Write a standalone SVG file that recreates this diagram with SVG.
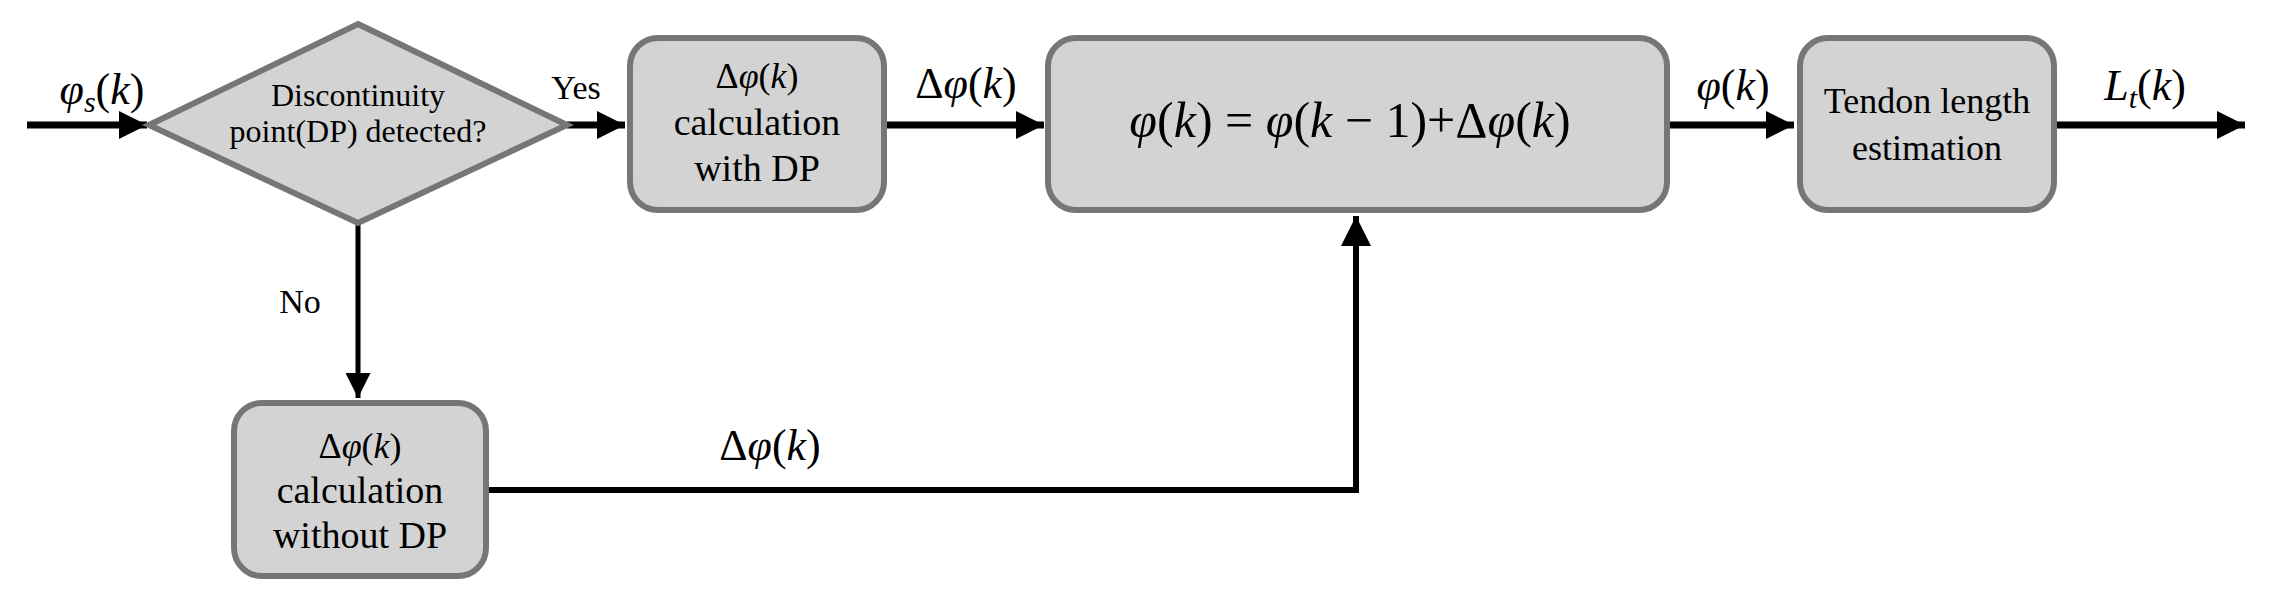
<svg xmlns="http://www.w3.org/2000/svg" width="2276" height="603" viewBox="0 0 2276 603">
<style>
.n{fill:#d3d3d3;stroke:#767676;stroke-width:6}
text{font-family:"Liberation Serif","Times New Roman","DejaVu Serif",serif;fill:#000;text-anchor:middle}
.m{font-style:italic}
.c{stroke:#000;fill:none}
</style>
<defs>
<marker id="a" viewBox="0 0 10 10" refX="10" refY="5" markerWidth="4" markerHeight="4" orient="auto" markerUnits="strokeWidth"><path d="M0,0L10,5L0,10z" fill="#000"/></marker>
<marker id="b" viewBox="0 0 10 10" refX="10" refY="5" markerWidth="5" markerHeight="5" orient="auto" markerUnits="strokeWidth"><path d="M0,0L10,5L0,10z" fill="#000"/></marker>
</defs>
<g id="connectors">
<path class="c" stroke-width="7" d="M27,125H147" marker-end="url(#a)"/>
<path class="c" stroke-width="7" d="M567,125H625" marker-end="url(#a)"/>
<path class="c" stroke-width="7" d="M884,125H1044" marker-end="url(#a)"/>
<path class="c" stroke-width="7" d="M1667,125H1794" marker-end="url(#a)"/>
<path class="c" stroke-width="7" d="M2054,125H2245" marker-end="url(#a)"/>
<path class="c" stroke-width="5" d="M358,223V398" marker-end="url(#b)"/>
<path class="c" stroke-width="6" d="M486,490H1356V216" marker-end="url(#b)"/>
<text class="m" x="102" y="104" font-size="44">φ<tspan font-size="30" dy="8">s</tspan><tspan dy="-8" font-style="normal">(</tspan>k<tspan font-style="normal">)</tspan></text>
<text x="576" y="99" font-size="34">Yes</text>
<text x="300" y="313" font-size="34">No</text>
<text class="m" x="966" y="98" font-size="44"><tspan font-style="normal">Δ</tspan>φ<tspan font-style="normal">(</tspan>k<tspan font-style="normal">)</tspan></text>
<text class="m" x="770" y="460" font-size="44"><tspan font-style="normal">Δ</tspan>φ<tspan font-style="normal">(</tspan>k<tspan font-style="normal">)</tspan></text>
<text class="m" x="1733" y="100" font-size="44">φ<tspan font-style="normal">(</tspan>k<tspan font-style="normal">)</tspan></text>
<text class="m" x="2145" y="100" font-size="44">L<tspan font-size="30" dy="8">t</tspan><tspan dy="-8" font-style="normal">(</tspan>k<tspan font-style="normal">)</tspan></text>
</g>
<g id="decision">
<polygon class="n" points="358,24 567,125 358,223 149,125"/>
<text x="358" y="106" font-size="32">Discontinuity</text>
<text x="358" y="142" font-size="32">point(DP) detected?</text>
</g>
<g id="with-dp">
<rect class="n" x="630" y="38" width="254" height="172" rx="28"/>
<text class="m" x="757" y="88" font-size="36"><tspan font-style="normal">Δ</tspan>φ<tspan font-style="normal">(</tspan>k<tspan font-style="normal">)</tspan></text>
<text x="757" y="135" font-size="38">calculation</text>
<text x="757" y="181" font-size="38">with DP</text>
</g>
<g id="without-dp">
<rect class="n" x="234" y="403" width="252" height="173" rx="28"/>
<text class="m" x="360" y="458" font-size="36"><tspan font-style="normal">Δ</tspan>φ<tspan font-style="normal">(</tspan>k<tspan font-style="normal">)</tspan></text>
<text x="360" y="503" font-size="38">calculation</text>
<text x="360" y="548" font-size="38">without DP</text>
</g>
<g id="update">
<rect class="n" x="1048" y="38" width="619" height="172" rx="28"/>
<text class="m" x="1350" y="137" font-size="50">φ<tspan font-style="normal">(</tspan>k<tspan font-style="normal">) = </tspan>φ<tspan font-style="normal">(</tspan>k<tspan font-style="normal"> − 1)+Δ</tspan>φ<tspan font-style="normal">(</tspan>k<tspan font-style="normal">)</tspan></text>
</g>
<g id="tendon">
<rect class="n" x="1800" y="38" width="254" height="172" rx="28"/>
<text x="1927" y="113" font-size="36">Tendon length</text>
<text x="1927" y="160" font-size="36">estimation</text>
</g>
</svg>
